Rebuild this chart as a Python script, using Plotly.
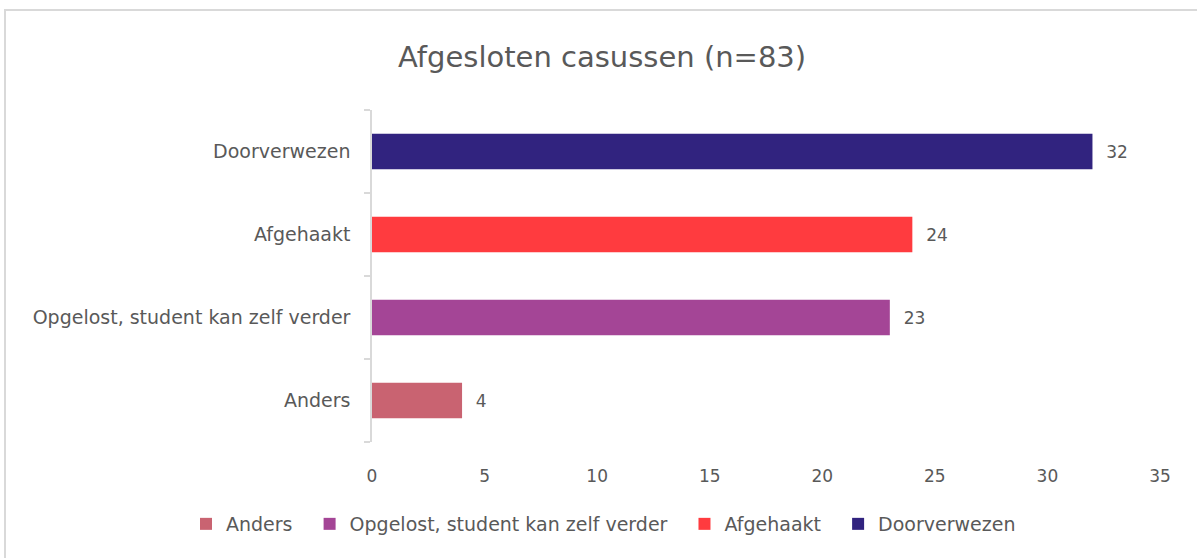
import plotly.graph_objects as go

categories = ["Anders", "Opgelost, student kan zelf verder", "Afgehaakt", "Doorverwezen"]
values = [4, 23, 24, 32]
colors = ["#C96371", "#A44596", "#FF3B3F", "#31237F"]
x_ticks = [0, 5, 10, 15, 20, 25, 30, 35]
title_text = "Afgesloten casussen (n=83)"

W, H = 1197, 558
L, R, T, B = 372, 37, 110, 116
pw, ph = W - L - R, H - T - B

FONT = "DejaVu Sans"
GRAY = "#595959"

fig = go.Figure()
for cat, val, col in zip(categories, values, colors):
    fig.add_trace(go.Bar(
        y=[cat], x=[val], orientation="h", name=cat + "\u00a0\u00a0",
        marker=dict(color=col, line=dict(width=0)),
        width=0.43,
        texttemplate="\u00a0\u00a0%{x}", textposition="outside",
        textfont=dict(family=FONT, size=17, color=GRAY),
        cliponaxis=False,
    ))

def px2paper_x(px):
    return (px - L) / pw

def py2paper_y(py):
    return (H - B - py) / ph

fig.update_layout(
    width=W, height=H,
    margin=dict(l=L, r=R, t=T, b=B),
    paper_bgcolor="white", plot_bgcolor="white",
    barmode="overlay",
    font=dict(family=FONT, color=GRAY),
    title=dict(text=title_text, x=0.503, xref="container", xanchor="center",
               y=1 - 57 / H, yref="container", yanchor="middle",
               font=dict(family=FONT, size=29, color=GRAY)),
    xaxis=dict(range=[0, 35], tickvals=x_ticks, showgrid=False, zeroline=False,
               showline=False, ticks="", tickfont=dict(family=FONT, size=17, color=GRAY),
               ticklabelstandoff=22, fixedrange=True),
    yaxis=dict(categoryorder="array", categoryarray=categories, type="category",
               showline=True, linecolor="#D9D9D9", linewidth=1.5,
               ticks="outside", tickson="boundaries", ticklen=6, tickcolor="#D9D9D9",
               tickwidth=1.5,
               tickfont=dict(family=FONT, size=19, color=GRAY),
               ticklabelstandoff=16, showgrid=False, range=[-0.5, 3.5], fixedrange=True),
    legend=dict(orientation="h", xref="paper", yref="paper",
                x=px2paper_x(186), xanchor="left", y=py2paper_y(524), yanchor="middle",
                font=dict(family=FONT, size=19, color=GRAY), traceorder="normal",
                itemclick=False),
    showlegend=True,
    shapes=[
        dict(type="line", xref="paper", yref="paper",
             x0=px2paper_x(5), x1=px2paper_x(5), y0=py2paper_y(10), y1=py2paper_y(H + 5),
             line=dict(color="#D9D9D9", width=2)),
        dict(type="line", xref="paper", yref="paper",
             x0=px2paper_x(4), x1=px2paper_x(W + 5), y0=py2paper_y(10), y1=py2paper_y(10),
             line=dict(color="#D9D9D9", width=2)),
    ],
)

fig.write_html("out.html", config={"displayModeBar": False},
               post_script="document.body.style.margin='0';document.body.style.overflow='hidden';")
